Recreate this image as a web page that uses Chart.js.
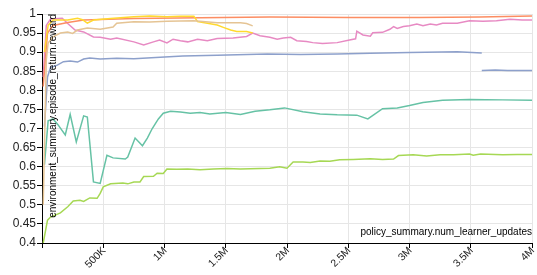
<!DOCTYPE html>
<html>
<head>
<meta charset="utf-8">
<script src="https://cdn.jsdelivr.net/npm/chart.js@4"></script>
<style>
  html, body { margin: 0; padding: 0; background: #fff; }
  canvas { display: block; }
</style>
</head>
<body>
<canvas id="chart" width="537" height="275"></canvas>
<script>
"use strict";

/* ── Data (x in millions of learner updates) ─────────────── */
const tealX = [0.02, 0.05, 0.09, 0.13, 0.19, 0.23, 0.28, 0.34, 0.37, 0.42, 0.475, 0.53, 0.58, 0.68, 0.70, 0.76, 0.82, 0.86, 0.90, 0.95, 0.99, 1.05, 1.13, 1.21, 1.29, 1.37, 1.50, 1.62, 1.74, 1.86, 1.98, 2.13, 2.27, 2.41, 2.57, 2.66, 2.78, 2.90, 3.00, 3.11, 3.27, 3.49, 3.76, 4.00];
const tealY = [0.605, 0.72, 0.725, 0.71, 0.683, 0.737, 0.665, 0.733, 0.73, 0.56, 0.556, 0.63, 0.623, 0.62, 0.625, 0.675, 0.655, 0.675, 0.70, 0.725, 0.74, 0.745, 0.743, 0.74, 0.742, 0.738, 0.742, 0.737, 0.745, 0.749, 0.754, 0.744, 0.738, 0.736, 0.735, 0.725, 0.752, 0.754, 0.76, 0.768, 0.774, 0.776, 0.775, 0.774];

const orangeX = [0.01, 0.045, 0.09, 0.21, 0.34, 0.75, 1.29, 1.86, 2.51, 3.08, 3.57, 4.00];
const orangeY = [0.81, 0.95, 0.97, 0.978, 0.984, 0.988, 0.99, 0.992, 0.991, 0.991, 0.992, 0.995];

const blueX = [0.02, 0.045, 0.07, 0.125, 0.175, 0.23, 0.29, 0.34, 0.39, 0.475, 0.61, 0.75, 0.965, 1.15, 1.43, 1.84, 2.11, 2.41, 2.68, 3.00, 3.39, 3.59];
const blueY = [0.705, 0.835, 0.86, 0.866, 0.875, 0.877, 0.874, 0.882, 0.885, 0.882, 0.884, 0.883, 0.887, 0.89, 0.892, 0.895, 0.894, 0.895, 0.897, 0.899, 0.901, 0.898];

const blue2X = [3.59, 3.70, 3.80, 3.90, 4.00];
const blue2Y = [0.852, 0.853, 0.852, 0.852, 0.852];

const pinkX = [0.01, 0.035, 0.07, 0.165, 0.21, 0.27, 0.34, 0.42, 0.475, 0.56, 0.61, 0.75, 0.83, 0.91, 0.96, 1.02, 1.07, 1.13, 1.19, 1.27, 1.35, 1.43, 1.56, 1.67, 1.72, 1.78, 1.86, 1.92, 1.97, 2.03, 2.08, 2.16, 2.21, 2.29, 2.41, 2.51, 2.56, 2.57, 2.62, 2.68, 2.70, 2.78, 2.84, 2.87, 2.90, 2.95, 3.00, 3.06, 3.11, 3.17, 3.22, 3.27, 3.39, 3.49, 3.60, 3.71, 3.82, 3.92, 4.00];
const pinkY = [0.835, 0.97, 0.987, 0.989, 0.975, 0.958, 0.953, 0.94, 0.939, 0.934, 0.937, 0.927, 0.919, 0.927, 0.932, 0.924, 0.934, 0.93, 0.927, 0.934, 0.93, 0.936, 0.937, 0.941, 0.95, 0.943, 0.939, 0.934, 0.937, 0.939, 0.93, 0.928, 0.925, 0.923, 0.925, 0.932, 0.935, 0.955, 0.945, 0.942, 0.951, 0.952, 0.96, 0.967, 0.962, 0.967, 0.969, 0.974, 0.969, 0.974, 0.971, 0.976, 0.976, 0.982, 0.981, 0.982, 0.986, 0.984, 0.984];

const limeX = [0.01, 0.045, 0.07, 0.15, 0.21, 0.255, 0.31, 0.34, 0.39, 0.45, 0.475, 0.50, 0.56, 0.66, 0.70, 0.75, 0.80, 0.83, 0.91, 0.94, 0.99, 1.02, 1.10, 1.19, 1.29, 1.40, 1.51, 1.62, 1.78, 1.86, 1.94, 2.00, 2.05, 2.13, 2.19, 2.27, 2.35, 2.43, 2.54, 2.68, 2.78, 2.87, 2.91, 3.03, 3.14, 3.25, 3.36, 3.49, 3.52, 3.58, 3.76, 3.88, 4.00];
const limeY = [0.40, 0.46, 0.468, 0.479, 0.495, 0.51, 0.512, 0.509, 0.518, 0.517, 0.53, 0.547, 0.555, 0.557, 0.555, 0.56, 0.56, 0.574, 0.575, 0.583, 0.582, 0.594, 0.593, 0.594, 0.592, 0.594, 0.595, 0.594, 0.595, 0.596, 0.600, 0.596, 0.612, 0.612, 0.611, 0.615, 0.614, 0.618, 0.619, 0.621, 0.619, 0.62, 0.629, 0.631, 0.628, 0.631, 0.631, 0.633, 0.630, 0.633, 0.631, 0.632, 0.632];

const yellowX = [0.02, 0.05, 0.09, 0.21, 0.29, 0.33, 0.37, 0.42, 0.56, 0.75, 0.88, 1.02, 1.13, 1.24, 1.27, 1.35, 1.43, 1.48, 1.54, 1.59, 1.67, 1.72];
const yellowY = [0.90, 0.97, 0.984, 0.984, 0.989, 0.985, 0.976, 0.984, 0.988, 0.993, 0.995, 0.993, 0.994, 0.994, 0.98, 0.976, 0.971, 0.965, 0.958, 0.954, 0.954, 0.95];

const tanX = [0.01, 0.035, 0.05, 0.09, 0.15, 0.21, 0.25, 0.29, 0.37, 0.475, 0.58, 0.61, 0.75, 0.88, 1.02, 1.24, 1.43, 1.62, 1.67, 1.72];
const tanY = [0.50, 0.88, 0.924, 0.94, 0.95, 0.953, 0.949, 0.958, 0.963, 0.96, 0.966, 0.976, 0.98, 0.979, 0.981, 0.982, 0.977, 0.977, 0.975, 0.969];

const xTicks = [0, 0.5, 1, 1.5, 2, 2.5, 3, 3.5, 4];
const xTickLabels = ["", "500K", "1M", "1.5M", "2M", "2.5M", "3M", "3.5M", "4M"];

const xTitle = "policy_summary.num_learner_updates";
const yTitle = "environment_summary.episode_return.reward";

const FONT = '"Liberation Sans", Arial, sans-serif';

/* ── Helpers ─────────────────────────────────────────────── */
function pts(xs, ys) {
  return xs.map((x, i) => ({ x: x * 1e6, y: ys[i] }));
}

function series(xs, ys, color) {
  return {
    data: pts(xs, ys),
    borderColor: color,
    borderWidth: 1.5,
    pointRadius: 0,
    tension: 0,
    fill: false,
  };
}

/* ── Rotated x labels + axis titles inside the plot ──────── */
const extraText = {
  id: "extraText",
  afterDraw(chart) {
    const { ctx, chartArea, scales } = chart;
    ctx.save();

    // x tick labels, rotated 45°, ending at the tick
    ctx.fillStyle = "#222";
    ctx.font = "10.5px " + FONT;
    ctx.textAlign = "right";
    ctx.textBaseline = "middle";
    xTicks.forEach((v, i) => {
      const px = scales.x.getPixelForValue(v * 1e6);
      ctx.save();
      ctx.translate(px + 1, chartArea.bottom + 6);
      ctx.rotate(-Math.PI / 4);
      ctx.fillText(xTickLabels[i], 0, 0);
      ctx.restore();
    });

    // axis titles
    ctx.fillStyle = "#000";
    ctx.font = "10px " + FONT;
    ctx.textAlign = "right";
    ctx.textBaseline = "alphabetic";
    ctx.fillText(xTitle, chartArea.right, chartArea.bottom - 8);

    ctx.translate(chartArea.left + 14, chartArea.top);
    ctx.rotate(-Math.PI / 2);
    ctx.fillText(yTitle, 0, 0);
    ctx.restore();
  },
};

/* ── Chart ───────────────────────────────────────────────── */
new Chart(document.getElementById("chart").getContext("2d"), {
  type: "line",
  data: {
    datasets: [
      series(tanX, tanY, "#e5c494"),
      series(yellowX, yellowY, "#ffd92f"),
      series(orangeX, orangeY, "#fc8d62"),
      series(blueX, blueY, "#8da0cb"),
      series(blue2X, blue2Y, "#8da0cb"),
      series(tealX, tealY, "#66c2a5"),
      series(limeX, limeY, "#a6d854"),
      series(pinkX, pinkY, "#e78ac3"),
    ],
  },
  options: {
    responsive: false,
    animation: false,
    layout: { padding: { top: 14, right: 5, left: 0, bottom: 0 } },
    plugins: { legend: { display: false }, tooltip: { enabled: false } },
    scales: {
      x: {
        type: "linear",
        min: 0,
        max: 4e6,
        afterBuildTicks: (s) => { s.ticks = xTicks.map((v) => ({ value: v * 1e6 })); },
        afterFit: (s) => { s.height = 32; s.paddingLeft = 0; s.paddingRight = 0; },
        ticks: { display: false, autoSkip: false },
        grid: { color: "#e6e6e6", tickColor: "#000", tickLength: 5 },
        border: { color: "#000", width: 1 },
      },
      y: {
        min: 0.4,
        max: 1,
        afterFit: (s) => { s.width = 42; },
        ticks: {
          stepSize: 0.05,
          color: "#222",
          font: { family: FONT, size: 12 },
          padding: 1,
          callback: (v) => String(Number(v.toFixed(2))),
        },
        grid: { color: "#e6e6e6", tickColor: "#000", tickLength: 5 },
        border: { color: "#000", width: 1 },
      },
    },
  },
  plugins: [extraText],
});
</script>
</body>
</html>
